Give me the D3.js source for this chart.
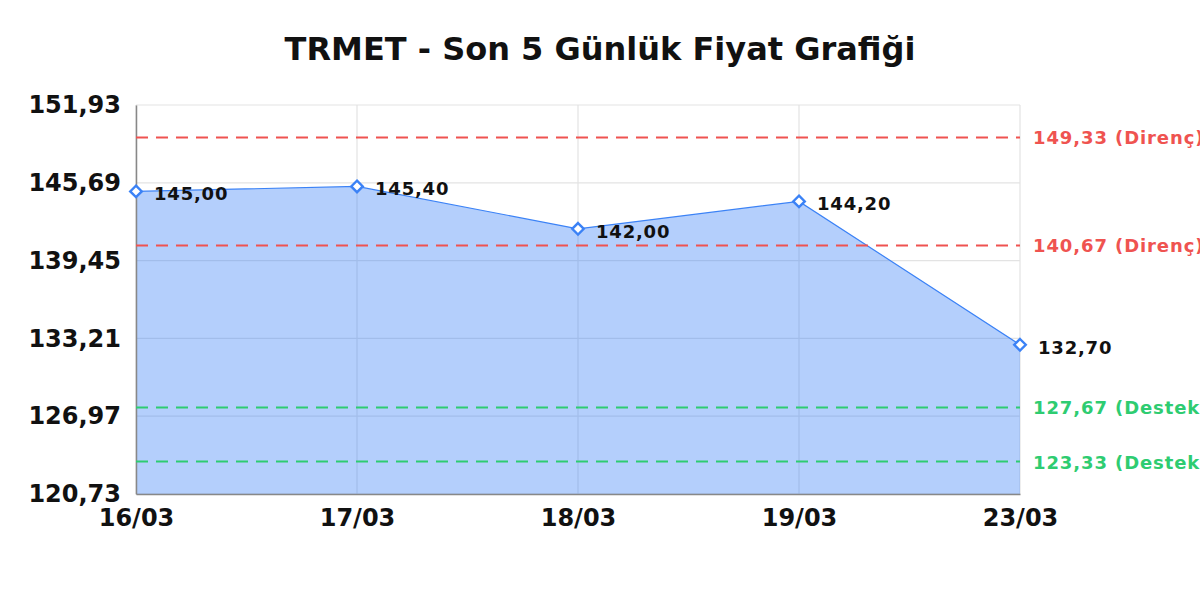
<!DOCTYPE html>
<html><head><meta charset="utf-8">
<script src="https://cdn.jsdelivr.net/npm/d3@7"></script>
<style>
html,body{margin:0;padding:0;background:#fff;overflow:hidden}
svg{display:block;font-family:"DejaVu Sans",sans-serif}
</style></head>
<body>
<script>
const title = "TRMET - Son 5 Günlük Fiyat Grafiği";
const dates = ["16/03","17/03","18/03","19/03","23/03"];
const prices = [145.00,145.40,142.00,144.20,132.70];
const yTicks = [120.73,126.97,133.21,139.45,145.69,151.93];
const resistance = [149.33,140.67];
const support = [127.67,123.33];

const W=1200,H=600;
const m={left:136,right:1020,top:105,bottom:494};
const fmt = v => v.toFixed(2).replace(".",",");

const svg=d3.select("body").append("svg").attr("width",W).attr("height",H).style("overflow","visible");

const x=d3.scalePoint().domain(dates).range([m.left,m.right]);
const y=d3.scaleLinear().domain([yTicks[0],yTicks[yTicks.length-1]]).range([m.bottom,m.top]);

svg.append("text").attr("x",600).attr("y",60).attr("text-anchor","middle")
  .attr("font-size",32).attr("font-weight","bold").attr("fill","#111").text(title);

// grid
const g=svg.append("g");
g.selectAll(".hg").data(yTicks).join("line")
  .attr("x1",m.left).attr("x2",m.right).attr("y1",d=>y(d)).attr("y2",d=>y(d))
  .attr("stroke","#e3e3e3").attr("stroke-width",1.2);
g.selectAll(".vg").data(dates).join("line")
  .attr("x1",d=>x(d)).attr("x2",d=>x(d)).attr("y1",m.top).attr("y2",m.bottom)
  .attr("stroke","#e3e3e3").attr("stroke-width",1.2);

// area
const data=dates.map((d,i)=>({d,v:prices[i]}));
svg.append("path").datum(data)
  .attr("d",d3.area().x(p=>x(p.d)).y0(m.bottom).y1(p=>y(p.v)))
  .attr("fill","rgba(59,130,246,0.38)");
svg.append("path").datum(data)
  .attr("d",d3.line().x(p=>x(p.d)).y(p=>y(p.v)))
  .attr("fill","none").attr("stroke","#3b82f6").attr("stroke-width",1.2);

// axes
const yAxis=d3.axisLeft(y).tickValues(yTicks).tickFormat(fmt).tickSize(0).tickPadding(15);
const ya=svg.append("g").attr("transform",`translate(${m.left},0)`).call(yAxis);
ya.select(".domain").attr("stroke","#888").attr("stroke-width",1.5);
ya.selectAll("text").attr("font-size",24).attr("font-weight","bold").attr("fill","#111")
  .attr("font-family","DejaVu Sans");
const xAxis=d3.axisBottom(x).tickSize(0).tickPadding(15);
const xa=svg.append("g").attr("transform",`translate(0,${m.bottom})`).call(xAxis);
xa.select(".domain").attr("stroke","#888").attr("stroke-width",1.5);
xa.selectAll("text").attr("font-size",24).attr("font-weight","bold").attr("fill","#111")
  .attr("font-family","DejaVu Sans");

// reference lines
const refs=[...resistance.map(v=>({v,t:"Direnç",c:"#ef5350"})),...support.map(v=>({v,t:"Destek",c:"#2ecc71"}))];
svg.selectAll(".ref").data(refs).join("line")
  .attr("x1",m.left).attr("x2",m.right).attr("y1",d=>y(d.v)).attr("y2",d=>y(d.v))
  .attr("stroke",d=>d.c).attr("stroke-width",2).attr("stroke-dasharray","12,8");
svg.selectAll(".reft").data(refs).join("text")
  .attr("x",m.right+13).attr("y",d=>y(d.v)+7)
  .attr("font-size",18).attr("font-weight","bold").attr("fill",d=>d.c).attr("letter-spacing",0.9)
  .text(d=>`${fmt(d.v)} (${d.t})`);

// markers
svg.selectAll(".mk").data(data).join("path")
  .attr("transform",p=>`translate(${x(p.d)},${y(p.v)})`)
  .attr("d",d3.symbol().type(d3.symbolDiamond2).size(85))
  .attr("fill","#fff").attr("stroke","#3b82f6").attr("stroke-width",2.4);

// point labels
svg.selectAll(".pl").data(data).join("text")
  .attr("x",p=>x(p.d)+18).attr("y",p=>y(p.v)+9)
  .attr("font-size",18).attr("font-weight","bold").attr("fill","#111").attr("letter-spacing",0.8)
  .text(p=>fmt(p.v));
</script>
</body></html>
